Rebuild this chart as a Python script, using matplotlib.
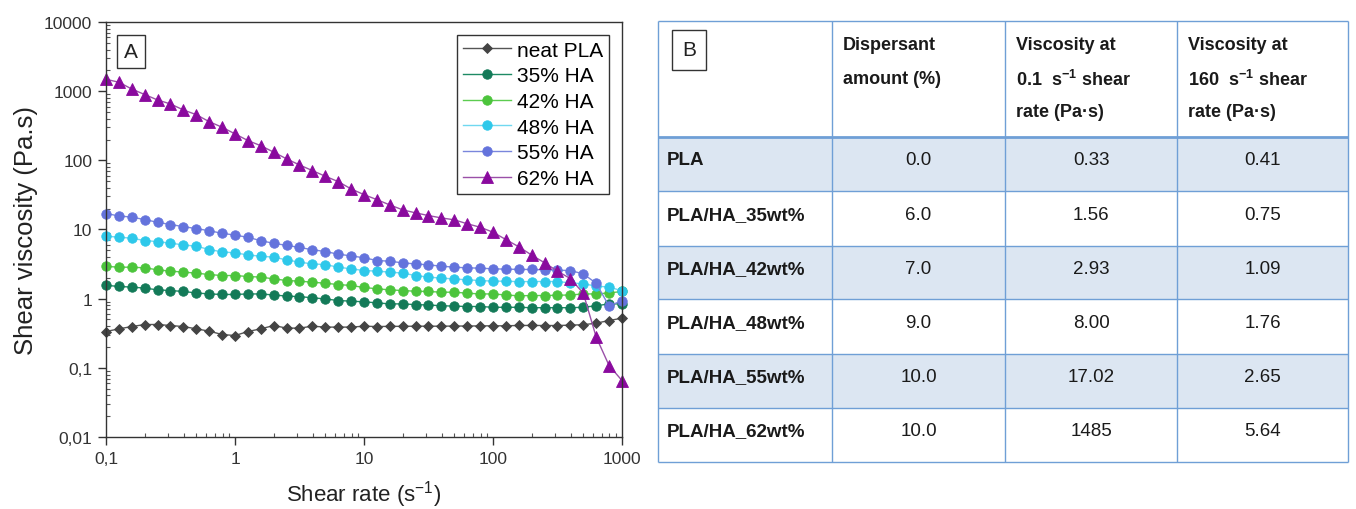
import matplotlib
matplotlib.use('Agg')
import matplotlib.pyplot as plt
from matplotlib.patches import Rectangle
from matplotlib.ticker import FixedLocator, FixedFormatter, LogLocator, NullFormatter

plt.rcParams['font.family'] = ['Liberation Sans', 'DejaVu Sans']
plt.rcParams['mathtext.fontset'] = 'custom'
plt.rcParams['mathtext.rm'] = 'Liberation Sans'
plt.rcParams['mathtext.bf'] = 'Liberation Sans:bold'
plt.rcParams['mathtext.default'] = 'regular'

# shear rate grid (s^-1)
shear_rate = [0.1, 0.126, 0.158, 0.2, 0.251, 0.316, 0.398, 0.501, 0.631, 0.794,
              1, 1.26, 1.58, 2, 2.51, 3.16, 3.98, 5.01, 6.31, 7.94,
              10, 12.6, 15.8, 20, 25.1, 31.6, 39.8, 50.1, 63.1, 79.4,
              100, 126, 158, 200, 251, 316, 398, 501, 631, 794, 1000]

neat_pla = [0.335, 0.366, 0.395, 0.423, 0.423, 0.409, 0.395, 0.366, 0.339, 0.303,
            0.293, 0.335, 0.366, 0.409, 0.375, 0.375, 0.400, 0.388, 0.388, 0.388,
            0.400, 0.395, 0.398, 0.398, 0.400, 0.400, 0.400, 0.402, 0.402, 0.404,
            0.405, 0.405, 0.410, 0.410, 0.409, 0.409, 0.414, 0.420, 0.442, 0.483, 0.522]
ha_35 = [1.56, 1.50, 1.47, 1.42, 1.34, 1.31, 1.27, 1.21, 1.17, 1.15,
         1.15, 1.17, 1.17, 1.13, 1.09, 1.07, 1.03, 0.99, 0.94, 0.92,
         0.90, 0.87, 0.84, 0.84, 0.82, 0.81, 0.79, 0.78, 0.77, 0.77,
         0.75, 0.75, 0.75, 0.74, 0.74, 0.74, 0.74, 0.75, 0.79, 0.84, 0.84]
ha_42 = [2.93, 2.85, 2.85, 2.79, 2.61, 2.50, 2.42, 2.34, 2.23, 2.16,
         2.16, 2.09, 2.05, 1.93, 1.83, 1.79, 1.73, 1.67, 1.60, 1.55,
         1.45, 1.39, 1.34, 1.31, 1.28, 1.27, 1.24, 1.24, 1.20, 1.17,
         1.17, 1.13, 1.10, 1.11, 1.11, 1.12, 1.13, 1.17, 1.17, 1.21, 1.27]
ha_48 = [8.00, 7.74, 7.48, 6.92, 6.68, 6.34, 5.99, 5.73, 5.13, 4.75,
         4.59, 4.29, 4.11, 3.98, 3.64, 3.37, 3.18, 3.11, 2.85, 2.70,
         2.55, 2.50, 2.42, 2.34, 2.16, 2.05, 1.98, 1.93, 1.87, 1.83,
         1.79, 1.79, 1.76, 1.77, 1.77, 1.77, 1.69, 1.64, 1.52, 1.47, 1.30]
ha_55 = [17.02, 15.7, 15.1, 13.9, 12.7, 11.8, 11.0, 10.3, 9.6, 8.8,
         8.3, 7.7, 6.9, 6.3, 5.9, 5.5, 5.1, 4.8, 4.4, 4.15,
         3.9, 3.56, 3.48, 3.29, 3.18, 3.08, 2.95, 2.85, 2.79, 2.76,
         2.70, 2.67, 2.65, 2.64, 2.61, 2.58, 2.55, 2.28, 1.67, 0.78, 0.94]
ha_62 = [1485, 1345, 1076, 891, 746, 653, 535, 457, 362, 301,
         241, 193, 163, 131, 105, 85.8, 71.0, 58.9, 49.2, 38.6,
         31.9, 27.0, 22.7, 19.2, 17.4, 15.9, 14.7, 13.8, 12.1, 10.8,
         9.14, 7.14, 5.64, 4.25, 3.3, 2.5, 1.95, 1.2, 0.278, 0.108, 0.0655]

series = [neat_pla, ha_35, ha_42, ha_48, ha_55, ha_62]
labels = ['neat PLA', '35% HA', '42% HA', '48% HA', '55% HA', '62% HA']
colors = ['#444444', '#137a58', '#4cc43c', '#2ec8ea', '#6473dc', '#8a0a9e']
line_colors = ['#555555', '#1e8a64', '#5ccc50', '#70d8f0', '#7a86dc', '#9a50a8']
markers = ['D', 'o', 'o', 'o', 'o', '^']
msizes = [5, 6.8, 6.8, 6.8, 6.8, 8.5]

y_ticks = [0.01, 0.1, 1, 10, 100, 1000, 10000]
y_tick_labels = ['0,01', '0,1', '1', '10', '100', '1000', '10000']
x_ticks = [0.1, 1, 10, 100, 1000]
x_tick_labels = ['0,1', '1', '10', '100', '1000']

# table content
header_lines = [
    [],
    ['Dispersant', 'amount (%)'],
    ['Viscosity at', r'0.1  s$^{\mathbf{-1}}$ shear', 'rate (Pa·s)'],
    ['Viscosity at', r'160  s$^{\mathbf{-1}}$ shear', 'rate (Pa·s)'],
]
samples = ['PLA', 'PLA/HA_35wt%', 'PLA/HA_42wt%', 'PLA/HA_48wt%', 'PLA/HA_55wt%', 'PLA/HA_62wt%']
dispersant = ['0.0', '6.0', '7.0', '9.0', '10.0', '10.0']
visc_01 = ['0.33', '1.56', '2.93', '8.00', '17.02', '1485']
visc_160 = ['0.41', '0.75', '1.09', '1.76', '2.65', '5.64']

fig = plt.figure(figsize=(13.56, 5.10), dpi=100)

# ---- panel A ----
ax = fig.add_axes([0.0782, 0.1412, 0.3805, 0.8137])
for vals, lab, c, lc, m, ms in zip(series, labels, colors, line_colors, markers, msizes):
    ax.plot(shear_rate, vals, color=lc, lw=1.0, marker=m, markersize=ms,
            markerfacecolor=c, markeredgecolor=c, markeredgewidth=0.6,
            label=lab, clip_on=False)

ax.set_xscale('log')
ax.set_yscale('log')
ax.set_xlim(0.1, 1000)
ax.set_ylim(0.01, 10000)
ax.yaxis.set_major_locator(FixedLocator(y_ticks))
ax.yaxis.set_major_formatter(FixedFormatter(y_tick_labels))
ax.xaxis.set_major_locator(FixedLocator(x_ticks))
ax.xaxis.set_major_formatter(FixedFormatter(x_tick_labels))
ax.yaxis.set_minor_locator(LogLocator(base=10, subs=range(2, 10), numticks=20))
ax.xaxis.set_minor_locator(LogLocator(base=10, subs=range(2, 10), numticks=20))
ax.yaxis.set_minor_formatter(NullFormatter())
ax.xaxis.set_minor_formatter(NullFormatter())
ax.tick_params(which='major', direction='out', length=6, width=1, labelsize=12.5,
               colors='#333333', pad=4)
ax.tick_params(which='minor', direction='in', length=3, width=0.8, colors='#555555')
for s in ax.spines.values():
    s.set_color('#333333')
    s.set_linewidth(1.0)

ax.set_xlabel(r'Shear rate (s$^{-1}$)', fontsize=16, color='#222222', labelpad=9)
ax.set_ylabel('Shear viscosity (Pa.s)', fontsize=18.5, color='#222222', labelpad=4)

leg = ax.legend(loc='upper right', fontsize=15, frameon=True, fancybox=False,
                edgecolor='#333333', framealpha=1, handlelength=2.3,
                labelspacing=0.32, borderpad=0.3, handletextpad=0.3,
                borderaxespad=0.6)
leg.get_frame().set_linewidth(1.0)

ax.text(0.035, 0.952, 'A', transform=ax.transAxes, fontsize=15, color='#222222',
        ha='left', va='top',
        bbox=dict(boxstyle='square,pad=0.35', fc='white', ec='#333333', lw=1.0))

# ---- panel B (table) ----
tb = fig.add_axes([0.4853, 0.0922, 0.5088, 0.8647])
tb.set_xlim(0, 690)
tb.set_ylim(441, 0)
tb.axis('off')

col_edges = [0, 174, 347, 519, 690]
row_edges = [0, 116, 170, 225, 278, 333, 387, 441]
shade = '#dce6f2'
grid_col = '#6f9fd6'

for i in range(len(samples)):
    top, bot = row_edges[i + 1], row_edges[i + 2]
    if i % 2 == 0:
        tb.add_patch(Rectangle((0, top), 690, bot - top, facecolor=shade, edgecolor='none'))

for y in row_edges:
    lw = 2.0 if y == row_edges[1] else 1.0
    tb.plot([0, 690], [y, y], color=grid_col, lw=lw, solid_capstyle='butt', clip_on=False)
for x in col_edges:
    tb.plot([x, x], [0, 441], color=grid_col, lw=1.0, solid_capstyle='butt', clip_on=False)

tb.text(31, 29, 'B', fontsize=15, ha='center', va='center', color='#222222',
        bbox=dict(boxstyle='square,pad=0.5', fc='white', ec='#333333', lw=1.0))

for j, lines in enumerate(header_lines):
    for k, line in enumerate(lines):
        tb.text(col_edges[j] + 11, 24 + 33.5 * k, line, fontsize=13, fontweight='bold',
                ha='left', va='center', color='#1a1a1a')

for i in range(len(samples)):
    top, bot = row_edges[i + 1], row_edges[i + 2]
    yc = top + 0.42 * (bot - top)
    tb.text(9, yc, samples[i], fontsize=13.5, fontweight='bold', ha='left', va='center',
            color='#1a1a1a')
    for j, vals in enumerate([dispersant, visc_01, visc_160]):
        xc = (col_edges[j + 1] + col_edges[j + 2]) / 2
        tb.text(xc, yc, vals[i], fontsize=13.5, ha='center', va='center', color='#1a1a1a')

fig.savefig('out.png', dpi=100, facecolor='white')
